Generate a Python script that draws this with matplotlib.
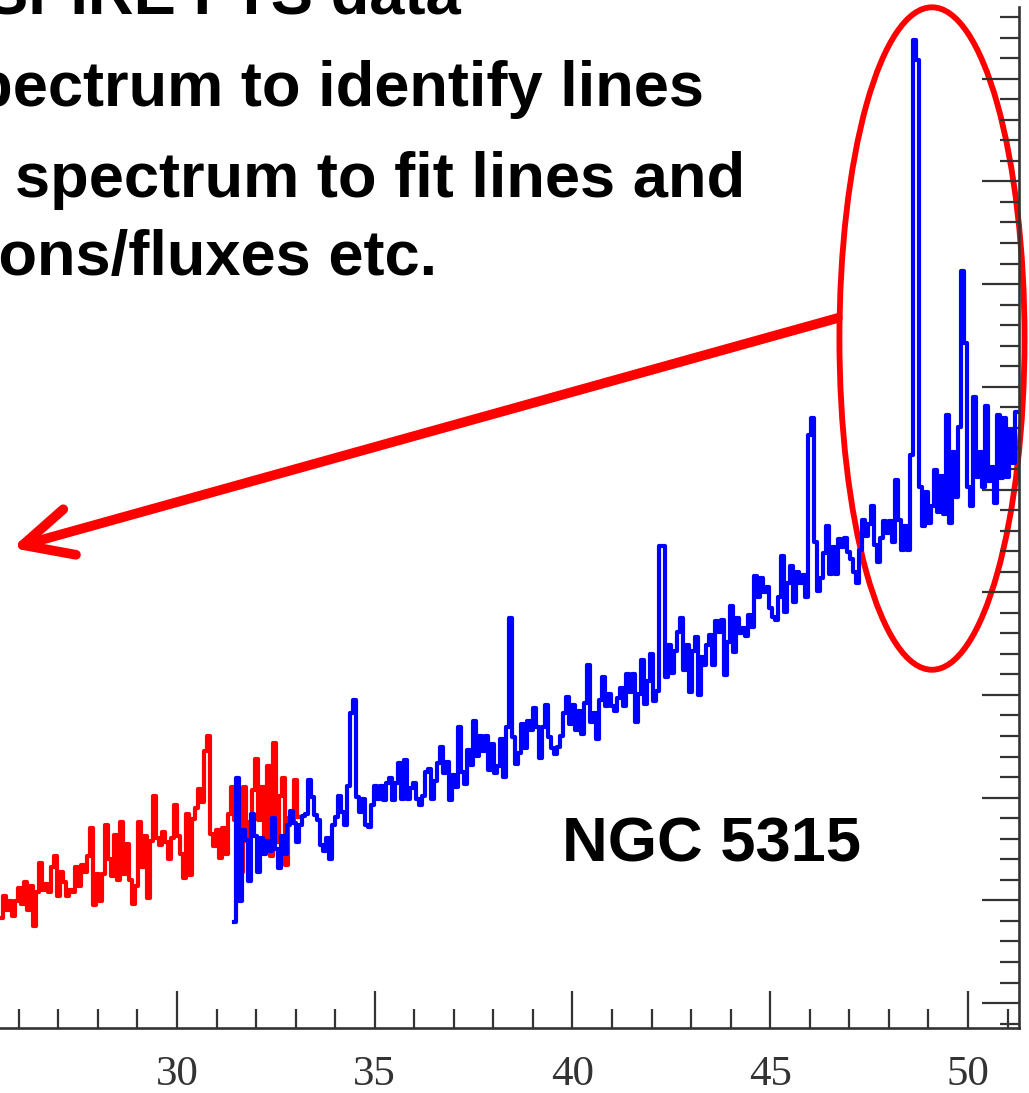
import numpy as np
import matplotlib
matplotlib.use("Agg")
import matplotlib.pyplot as plt
from matplotlib.patches import Ellipse
from matplotlib.ticker import MultipleLocator

# SPIRE FTS spectrum of NGC 5315 (flux vs wavenumber, cm-1)
# SLW detector (red) and SSW detector (blue), same sampling step
step = 0.0758
slw_start = 25.56
ssw_start = 31.45

slw_flux = [
    1.83, 2.04, 1.91, 1.99, 1.85, 1.99, 2.12, 1.96, 2.18, 1.91,
    2.14, 1.75, 2.08, 2.36, 2.10, 2.16, 2.08, 2.32, 2.43, 2.04,
    2.28, 2.18, 2.04, 2.10, 2.08, 2.32, 2.14, 2.34, 2.28, 2.43,
    2.70, 1.95, 2.26, 1.99, 2.26, 2.73, 2.40, 2.24, 2.64, 2.20,
    2.76, 2.26, 2.55, 2.20, 1.96, 2.14, 2.76, 2.32, 2.63, 2.02,
    2.58, 3.02, 2.61, 2.54, 2.67, 2.57, 2.40, 2.61, 2.93, 2.63,
    2.45, 2.22, 2.84, 2.25, 2.79, 2.90, 3.08, 2.96, 3.45, 3.60,
    2.65, 2.53, 2.68, 2.41, 2.70, 2.45, 2.84, 3.10, 2.78, 2.48,
    2.28, 3.10, 2.58, 2.76, 3.07, 3.38, 2.78, 3.10, 2.55, 3.31,
    2.43, 3.53, 2.57, 3.02, 3.19, 2.34, 2.80, 2.77, 3.17, 2.81,
]

ssw_flux = [
    1.79, 3.19, 1.99, 2.68, 2.59, 2.19, 2.84, 2.63, 2.28, 2.61,
    2.45, 2.58, 2.48, 2.80, 2.50, 2.31, 2.63, 2.45, 2.73, 2.87,
    2.75, 2.57, 2.73, 2.82, 2.84, 3.17, 3.01, 2.83, 2.78, 2.54,
    2.48, 2.61, 2.40, 2.73, 2.81, 3.02, 2.86, 2.73, 3.11, 3.82,
    3.95, 3.01, 2.86, 2.99, 2.73, 2.71, 2.93, 3.11, 2.99, 3.11,
    2.98, 3.14, 3.19, 2.98, 3.14, 3.34, 2.99, 3.37, 2.99, 3.09,
    3.14, 2.99, 2.93, 3.02, 3.25, 3.28, 2.99, 3.16, 3.34, 3.49,
    3.24, 3.35, 2.98, 3.22, 3.10, 3.69, 3.25, 3.13, 3.46, 3.32,
    3.75, 3.41, 3.60, 3.45, 3.60, 3.27, 3.52, 3.24, 3.31, 3.57,
    3.20, 3.69, 4.75, 3.59, 3.33, 3.43, 3.72, 3.48, 3.75, 3.66,
    3.87, 3.69, 3.39, 3.69, 3.90, 3.59, 3.48, 3.42, 3.49, 3.60,
    3.82, 3.98, 3.72, 3.90, 3.66, 3.84, 3.62, 3.92, 4.29, 3.74,
    3.82, 3.57, 3.95, 4.17, 3.89, 4.01, 3.89, 3.84, 3.97, 4.07,
    3.89, 4.20, 4.03, 4.20, 3.74, 4.01, 4.34, 3.91, 4.14, 4.40,
    3.94, 4.04, 5.45, 5.45, 4.17, 4.49, 4.21, 4.43, 4.61, 4.75,
    4.24, 4.49, 4.03, 4.43, 4.56, 4.00, 4.37, 4.29, 4.49, 4.58,
    4.29, 4.72, 4.61, 4.73, 4.19, 4.52, 4.87, 4.42, 4.75, 4.60,
    4.65, 4.57, 4.78, 4.66, 5.16, 4.95, 5.14, 5.00, 5.05, 4.85,
    4.76, 4.73, 4.95, 5.35, 4.81, 5.09, 5.26, 4.90, 5.20, 5.09,
    5.17, 4.95, 6.53, 6.70, 5.49, 5.01, 5.14, 5.38, 5.64, 5.18,
    5.44, 5.18, 5.52, 5.44, 5.53, 5.39, 5.32, 5.20, 5.09, 5.41,
    5.70, 5.55, 5.66, 5.84, 5.46, 5.29, 5.53, 5.69, 5.58, 5.69,
    5.49, 6.09, 5.70, 5.41, 5.64, 5.41, 6.34, 10.38, 10.18, 6.02,
    5.64, 5.98, 5.67, 5.84, 6.19, 5.78, 6.13, 5.76, 6.73, 5.67,
    6.37, 5.93, 6.61, 8.13, 7.43, 6.02, 5.84, 6.90, 6.12, 6.37,
    6.02, 6.81, 6.08, 6.22, 5.87, 6.73, 6.11, 6.70, 6.12, 6.58,
    6.26, 6.75,
]

slw_wn = slw_start + step * np.arange(len(slw_flux))
ssw_wn = ssw_start + step * np.arange(len(ssw_flux))

xticks_major = [30, 35, 40, 45, 50]

fig = plt.figure(figsize=(10.29, 10.93), dpi=100)
ax = fig.add_axes([0.0, 0.05947, 0.99028, 0.93413])

ax.plot(slw_wn, slw_flux, drawstyle="steps-mid", color="#ff0000", lw=3.0)
ax.plot(ssw_wn, ssw_flux, drawstyle="steps-mid", color="#0000ff", lw=3.0)

ax.set_xlim(25.525, 51.29)
ax.set_ylim(0.757, 10.698)

# frame: only bottom and right axes, ticks pointing inwards
for side in ["top", "left"]:
    ax.spines[side].set_visible(False)
for side in ["bottom", "right"]:
    ax.spines[side].set_linewidth(1.9)
    ax.spines[side].set_color("#333333")

ax.set_xticks(xticks_major)
ax.xaxis.set_minor_locator(MultipleLocator(1))
ax.yaxis.set_major_locator(MultipleLocator(1))
ax.yaxis.set_minor_locator(MultipleLocator(0.2))
ax.yaxis.tick_right()
ax.tick_params(axis="both", which="both", direction="in", color="#333333", width=1.6)
ax.tick_params(axis="both", which="major", length=27)
ax.tick_params(axis="both", which="minor", length=13.5)
ax.tick_params(axis="y", which="both", labelright=False, left=False, labelleft=False)
ax.tick_params(axis="x", pad=20, labelsize=31, labelcolor="#333333")
for lab in ax.get_xticklabels():
    lab.set_family("Liberation Serif")

# highlight the strong lines at the high-wavenumber end
ax.add_patch(Ellipse((49.09, 7.47), 4.68, 6.45, fill=False, ec="#ff0000",
                     lw=4.2, clip_on=False))
ax.annotate("", xy=(25.83, 5.43), xytext=(46.71, 7.67),
            arrowprops=dict(arrowstyle="->,head_length=1.75,head_width=0.85",
                            mutation_scale=20, lw=7, color="#ff0000",
                            shrinkA=0, shrinkB=0),
            annotation_clip=False)

ax.text(39.73, 2.38, "NGC 5315", fontsize=45.5, fontweight="bold",
        family="Liberation Sans", ha="left", va="baseline")

W, H = 1029, 1093
bullets = [
    ("SPIRE FTS data", 461, 13),
    ("spectrum to identify lines", 704, 106),
    ("spectrum to fit lines and", 745, 197),
    ("positions/fluxes etc.", 437, 275),
]
for txt, xr, yb in bullets:
    fig.text(xr / W, 1 - yb / H, txt, fontsize=45.5, fontweight="bold",
             family="Liberation Sans", ha="right", va="baseline")

fig.savefig("out.png", dpi=100)
